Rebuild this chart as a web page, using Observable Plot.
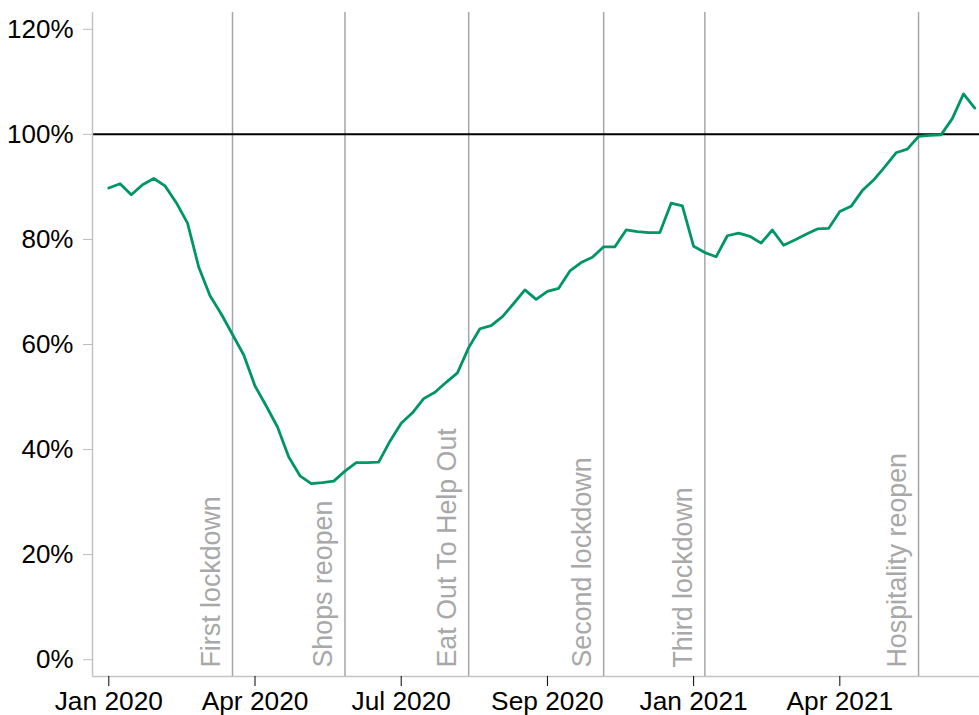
<!DOCTYPE html>
<html>
<head>
<meta charset="utf-8">
<script src="https://cdn.jsdelivr.net/npm/d3@7"></script>
<script src="https://cdn.jsdelivr.net/npm/@observablehq/plot@0.6"></script>
<style>
  body { margin: 0; background: #fff; }
  svg { display: block; }
</style>
</head>
<body>
<div id="chart"></div>
<script>
// Weekly values (% of pre-pandemic level), week 0 = first week of Jan 2020
const values = [89.8, 90.6, 88.5, 90.4, 91.6, 90.2, 87.0, 83.1, 74.7, 69.3, 65.8,
  61.9, 58.0, 52.1, 48.3, 44.3, 38.6, 35.0, 33.5, 33.7, 34.0,
  35.9, 37.5, 37.5, 37.6, 41.6, 45.0, 47.0, 49.7, 50.9, 52.8,
  54.6, 59.4, 63.0, 63.6, 65.3, 67.8, 70.4, 68.6, 70.1, 70.7,
  74.0, 75.6, 76.6, 78.6, 78.6, 81.8, 81.5, 81.3, 81.3, 86.9,
  86.4, 78.7, 77.5, 76.7, 80.7, 81.2, 80.6, 79.3, 81.8, 78.9,
  79.9, 81.0, 82.0, 82.1, 85.3, 86.3, 89.3, 91.3, 93.8, 96.5,
  97.2, 99.6, 99.8, 99.9, 103.0, 107.7, 105.0];

const eventNames = ["First lockdown", "Shops reopen", "Eat Out To Help Out",
  "Second lockdown", "Third lockdown", "Hospitality reopen"];
const eventWeeks = [11, 21, 32, 44, 53, 72];

const tickWeeks = [0, 13, 26, 39, 52, 65];
const tickLabels = ["Jan 2020", "Apr 2020", "Jul 2020", "Sep 2020", "Jan 2021", "Apr 2021"];
const yTicks = [0, 20, 40, 60, 80, 100, 120];
const baseline = [100];

const xDomain = [-1.45, 77.42];
const yDomain = [-3.2, 123.2];

const data = values.map((v, i) => ({week: i, value: v}));
const events = eventNames.map((n, i) => ({name: n, week: eventWeeks[i]}));

const chart = Plot.plot({
  width: 979,
  height: 715,
  marginLeft: 92,
  marginRight: 0,
  marginTop: 12,
  marginBottom: 39,
  style: {fontFamily: "'Liberation Sans', Arial, sans-serif", background: "#fff"},
  x: {domain: xDomain, label: null},
  y: {domain: yDomain, label: null},
  marks: [
    Plot.ruleX(eventWeeks, {stroke: "#a6a6a6", strokeWidth: 1.5}),
    Plot.ruleY(baseline, {stroke: "#000", strokeWidth: 2}),
    Plot.ruleX([xDomain[0]], {stroke: "#c4c4c4", strokeWidth: 1.5}),
    Plot.ruleY([yDomain[0]], {stroke: "#c4c4c4", strokeWidth: 1.5}),
    Plot.axisY({ticks: yTicks, tickFormat: d => d + "%", tickSize: 9, tickPadding: 10,
      stroke: "#bdbdbd", fill: "#000", fontSize: 26, label: null}),
    Plot.axisX({ticks: tickWeeks, tickFormat: d => tickLabels[tickWeeks.indexOf(d)],
      tickSize: 10, tickPadding: 5, stroke: "#000", fill: "#000", fontSize: 26.3, label: null}),
    Plot.line(data, {x: "week", y: "value", stroke: "#009664", strokeWidth: 2.8}),
    Plot.text(events, {x: "week", text: "name", frameAnchor: "bottom", rotate: -90,
      textAnchor: "start", lineAnchor: "bottom", dx: -12.5, dy: -9,
      fill: "#a8a8a8", fontSize: 26.8})
  ]
});
document.getElementById("chart").appendChild(chart);
</script>
</body>
</html>
